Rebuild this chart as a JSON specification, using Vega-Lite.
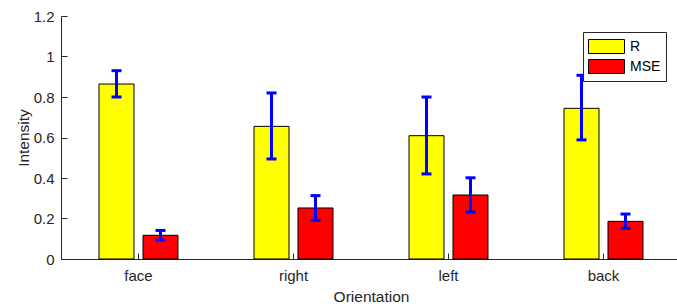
{
  "$schema": "https://vega.github.io/schema/vega-lite/v6.json",
  "width": 616,
  "height": 243,
  "autosize": {"type": "none"},
  "padding": {"left": 61, "top": 16, "right": 0, "bottom": 45},
  "background": "white",
  "config": {
    "view": {"stroke": null},
    "font": "Liberation Sans",
    "axis": {
      "domainColor": "#262626",
      "tickColor": "#262626",
      "labelColor": "#262626",
      "titleColor": "#262626",
      "labelFont": "Liberation Sans",
      "titleFont": "Liberation Sans",
      "labelFontSize": 15,
      "titleFontSize": 15.5,
      "titleFontWeight": "normal",
      "grid": false,
      "domainWidth": 1,
      "tickWidth": 1
    }
  },
  "data": {
    "values": [
      {"orientation": "face", "series": "R", "value": 0.864, "lo": 0.80, "hi": 0.93},
      {"orientation": "face", "series": "MSE", "value": 0.117, "lo": 0.094, "hi": 0.141},
      {"orientation": "right", "series": "R", "value": 0.655, "lo": 0.494, "hi": 0.82},
      {"orientation": "right", "series": "MSE", "value": 0.252, "lo": 0.191, "hi": 0.313},
      {"orientation": "left", "series": "R", "value": 0.609, "lo": 0.42, "hi": 0.80},
      {"orientation": "left", "series": "MSE", "value": 0.316, "lo": 0.232, "hi": 0.401},
      {"orientation": "back", "series": "R", "value": 0.744, "lo": 0.588, "hi": 0.907},
      {"orientation": "back", "series": "MSE", "value": 0.186, "lo": 0.151, "hi": 0.222}
    ]
  },
  "encoding": {
    "x": {
      "field": "orientation",
      "type": "nominal",
      "sort": ["face", "right", "left", "back"],
      "scale": {"range": [0, 620], "paddingInner": 0, "paddingOuter": 0},
      "axis": {"title": "Orientation", "labelAngle": 0, "tickSize": -6, "labelPadding": 15, "titlePadding": 6}
    },
    "xOffset": {
      "field": "series",
      "type": "nominal",
      "sort": ["R", "MSE"],
      "scale": {"paddingInner": 0.2045, "paddingOuter": 0.864}
    }
  },
  "layer": [
    {
      "mark": {"type": "bar", "stroke": "#000000", "strokeWidth": 1},
      "encoding": {
        "y": {
          "field": "value",
          "type": "quantitative",
          "title": "Intensity",
          "scale": {"domain": [0, 1.2], "nice": false},
          "axis": {"values": [0, 0.2, 0.4, 0.6, 0.8, 1, 1.2], "format": "~g", "tickSize": -6, "labelPadding": 13, "titlePadding": 2}
        },
        "color": {
          "field": "series",
          "type": "nominal",
          "sort": ["R", "MSE"],
          "scale": {"domain": ["R", "MSE"], "range": ["#ffff00", "#ff0000"]},
          "legend": {
            "orient": "none",
            "legendX": 522,
            "legendY": 16,
            "title": null,
            "symbolType": "M-1,-0.78H3V0.78H-1Z",
            "symbolSize": 324,
            "symbolStrokeColor": "#000000",
            "symbolStrokeWidth": 1,
            "symbolOpacity": 1,
            "labelFont": "Liberation Sans",
            "labelFontSize": 14,
            "labelColor": "#000000",
            "strokeColor": "#262626",
            "fillColor": "white",
            "padding": 5,
            "rowPadding": 1,
            "labelOffset": 23
          }
        }
      }
    },
    {
      "mark": {"type": "rule", "color": "#0000ff", "strokeWidth": 3},
      "encoding": {
        "y": {"field": "lo", "type": "quantitative", "title": "Intensity"},
        "y2": {"field": "hi"}
      }
    },
    {
      "mark": {"type": "tick", "color": "#0000ff", "thickness": 3, "size": 10, "opacity": 1},
      "encoding": {
        "y": {"field": "lo", "type": "quantitative", "title": "Intensity"}
      }
    },
    {
      "mark": {"type": "tick", "color": "#0000ff", "thickness": 3, "size": 10, "opacity": 1},
      "encoding": {
        "y": {"field": "hi", "type": "quantitative", "title": "Intensity"}
      }
    }
  ]
}
